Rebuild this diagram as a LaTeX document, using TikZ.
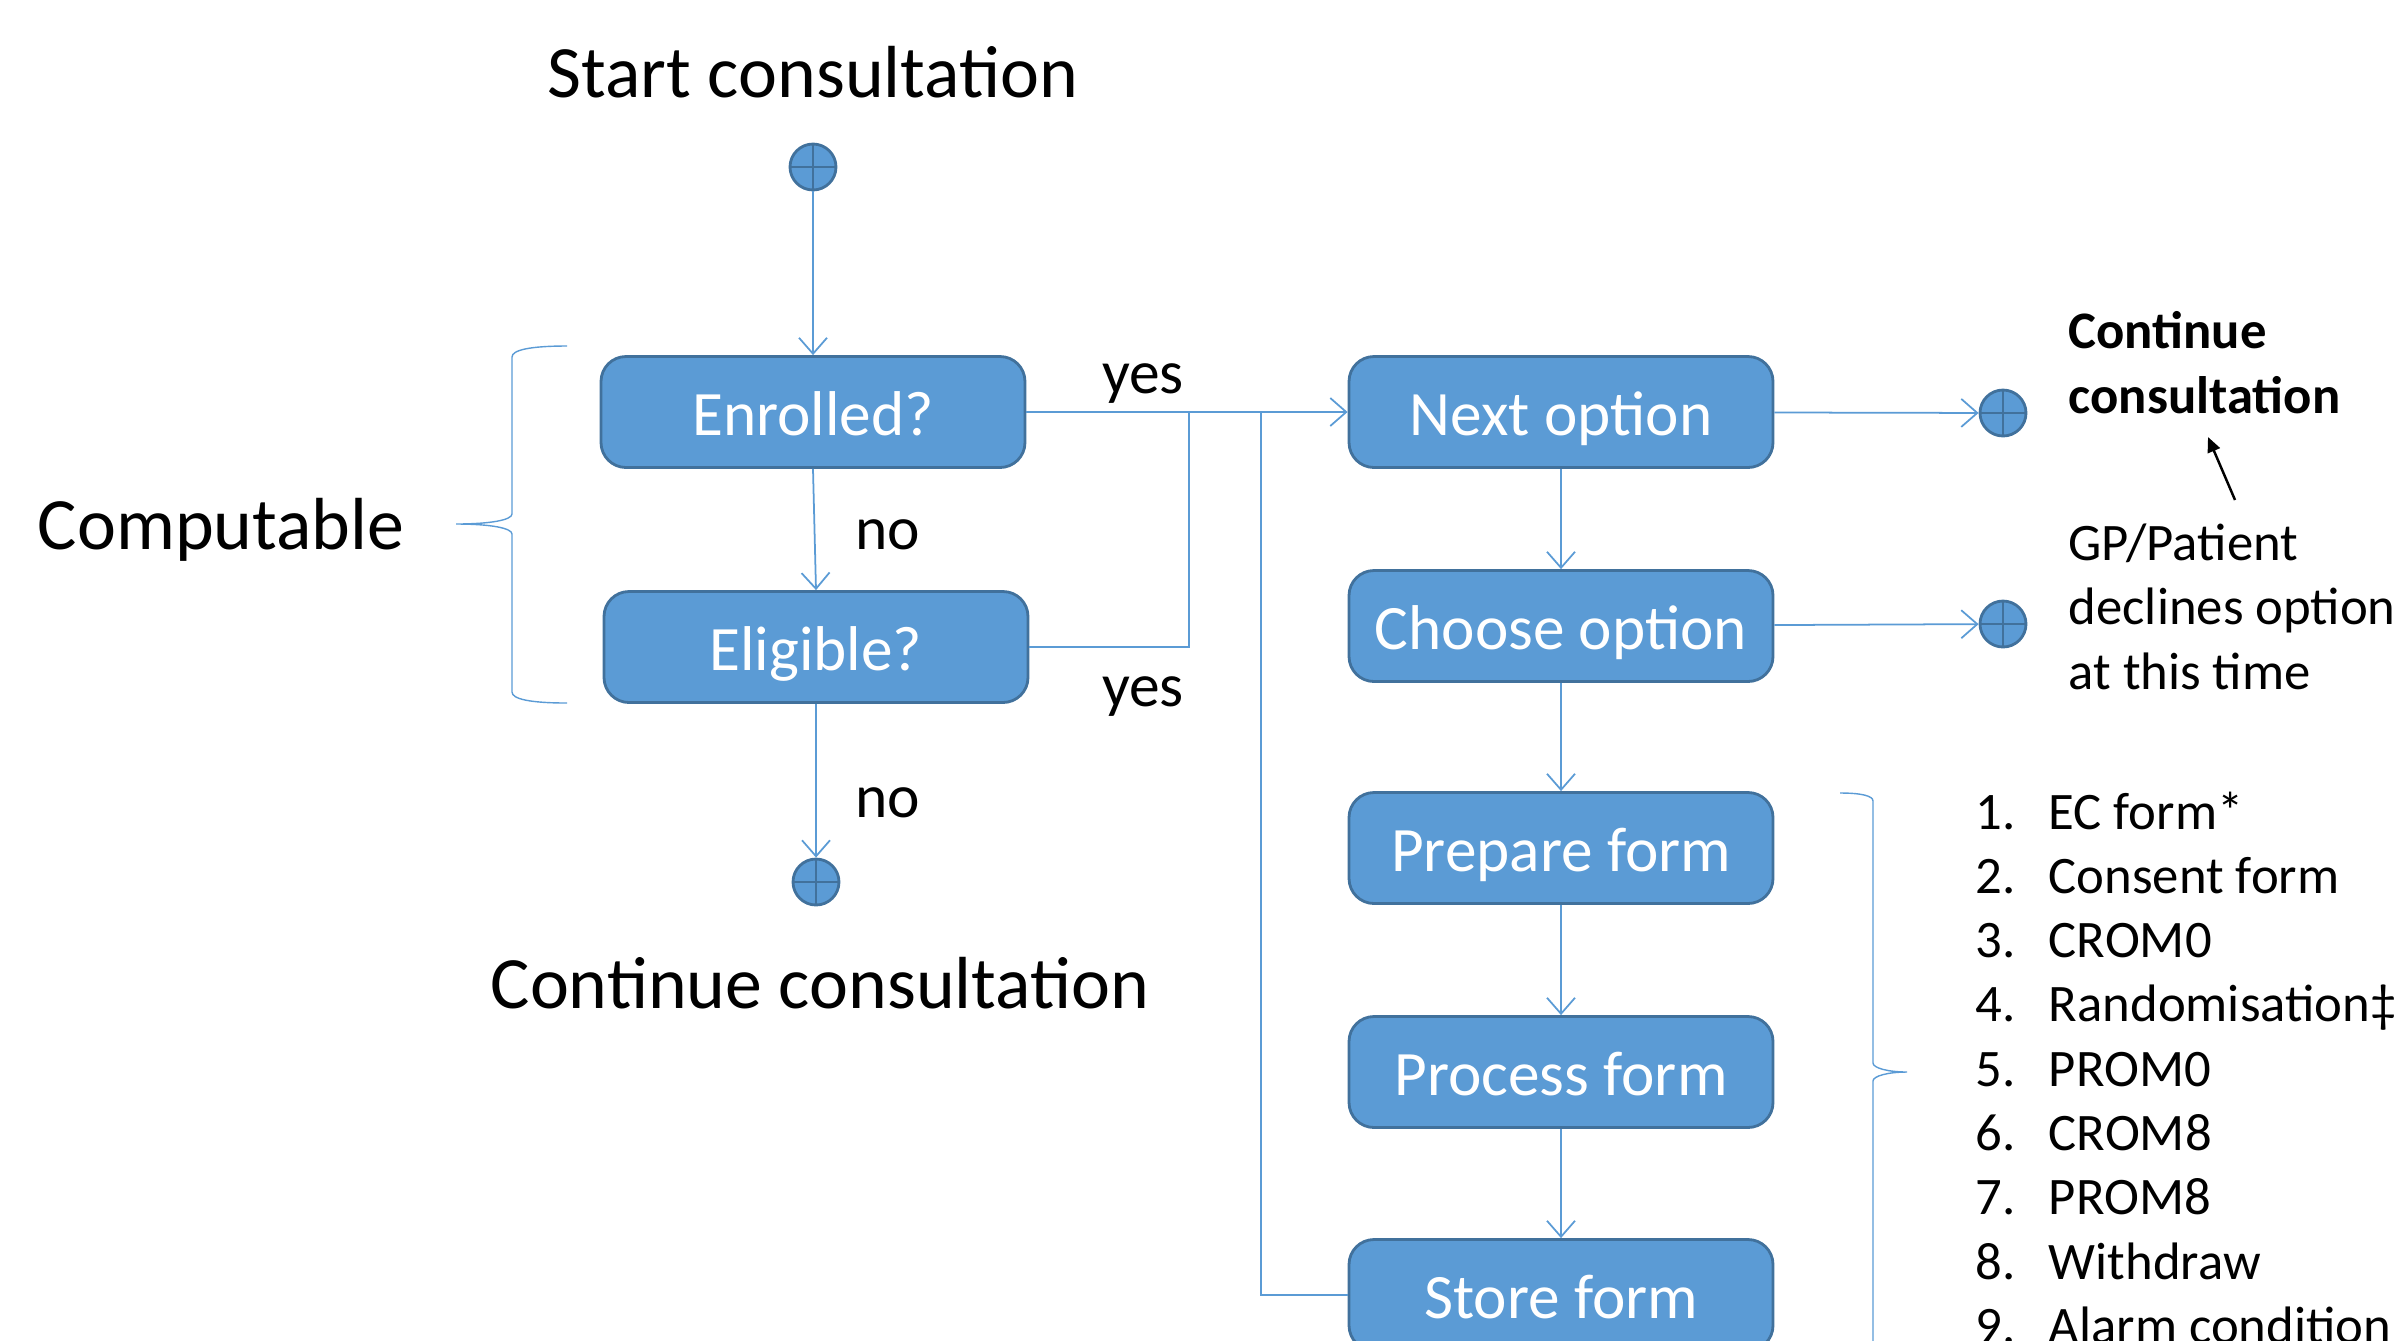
\documentclass[tikz,border=0pt]{standalone}
\usepackage{fontspec}
\setmainfont{Carlito}
\usetikzlibrary{arrows.meta}
\definecolor{boxblue}{HTML}{5B9BD5}
\definecolor{boxedge}{HTML}{41719C}
\begin{document}
\begin{tikzpicture}[x=0.1mm,y=-0.1mm,
	every node/.style={inner sep=0pt},
	stepbox/.style={draw=boxedge,fill=boxblue,line width=0.8pt,rounded corners=2.5mm,
		minimum width=42.4mm,minimum height=11.1mm,text=white,font=\fontsize{18}{22}\selectfont,
		text height=13.4pt,text depth=0pt},
	endpoint/.style={circle,draw=boxedge,fill=boxblue,line width=0.8pt,minimum size=4.6mm,
		path picture={\draw[boxedge,line width=0.8pt]
			(path picture bounding box.north) -- (path picture bounding box.south)
			(path picture bounding box.west) -- (path picture bounding box.east);}},
	flow/.style={draw=boxblue,line width=0.5pt},
	arr/.style={flow,-{Straight Barb[length=1.6mm,width=2.8mm]}},
	bracket/.style={draw=boxblue,line width=0.4pt},
	big/.style={font=\fontsize{21}{25}\selectfont},
	lbl/.style={font=\fontsize{17.5}{21}\selectfont},
	note/.style={font=\fontsize{15}{18.3}\selectfont,align=left}]
	\useasboundingbox (0,0) rectangle (2405,1340);

	% left column
	\node[big] (starttext) at (813,72) {Start consultation};
	\node[endpoint] (start) at (813,167) {};
	\node[stepbox] (enrolled) at (813,412) {Enrolled?};
	\node[stepbox] (eligible) at (816,647) {Eligible?};
	\node[endpoint] (stop1) at (816,882) {};
	\node[big] (stoptext) at (820,983) {Continue consultation};
	\node[big] (comp) at (221,530) {Computable};
	\node[lbl] (no1) at (888,535) {no};
	\node[lbl] (no2) at (888,803) {no};
	\node[lbl] (yes1) at (1143,384) {yes};
	\node[lbl] (yes2) at (1143,697) {yes};

	% right column
	\node[stepbox] (next) at (1561,412) {Next option};
	\node[stepbox] (choose) at (1561,626) {Choose option};
	\node[stepbox] (prepare) at (1561,848) {Prepare form};
	\node[stepbox] (process) at (1561,1072) {Process form};
	\node[stepbox] (store) at (1561,1295) {Store form};
	\node[endpoint] (stop2) at (2003,413) {};
	\node[endpoint] (stop3) at (2003,624) {};

	\node[note,anchor=base west] (cont) at (2068,413) {\bfseries Continue\\\bfseries consultation};
	\node[note,anchor=base west] (decl) at (2068,689) {GP/Patient\\declines option\\at this time};
	\node[note,anchor=base west] (forms) at (1975,829) {%
		\begin{tabular}[t]{@{}p{20.8pt}@{}l@{}}
		1. & EC form*\\
		2. & Consent form\\
		3. & CROM0\\
		4. & Randomisation‡\\
		5. & PROM0\\
		6. & CROM8\\
		7. & PROM8\\
		8. & Withdraw\\
		9. & Alarm condition
		\end{tabular}};

	\coordinate (join) at (1189,412);
	\coordinate (loop) at (1261,412);
	\coordinate (gptail) at (2235,500);
	\coordinate (gphead) at (2208,437);

	% connectors
	\draw[arr] (start) -- (enrolled);
	\draw[arr] (enrolled.south) -- (eligible.north);
	\draw[arr] (eligible) -- (stop1);
	\draw[arr] (enrolled) -- (next);
	\draw[flow] (eligible) -| (join);
	\draw[flow] (store) -| (loop);
	\draw[arr] (next) -- (choose);
	\draw[arr] (choose) -- (prepare);
	\draw[arr] (prepare) -- (process);
	\draw[arr] (process) -- (store);
	\draw[arr] (next) -- (stop2);
	\draw[arr] (choose) -- (stop3);
	\draw[line width=0.7pt,-{Triangle[length=1.5mm,width=1.3mm]}] (gptail) -- (gphead);

	% braces
	\draw[bracket] (567,346) .. controls (530,346) and (512,350) .. (512,357) -- (512,514)
		.. controls (512,520) and (490,524) .. (456,524)
		.. controls (490,524) and (512,528) .. (512,534) -- (512,692)
		.. controls (512,699) and (530,703) .. (567,703);
	\draw[bracket] (1840,793) .. controls (1862,793) and (1873,796) .. (1873,801) -- (1873,1063)
		.. controls (1873,1068) and (1888,1072) .. (1907,1072)
		.. controls (1888,1072) and (1873,1076) .. (1873,1081) -- (1873,1343)
		.. controls (1873,1348) and (1862,1351) .. (1840,1351);
\end{tikzpicture}
\end{document}
